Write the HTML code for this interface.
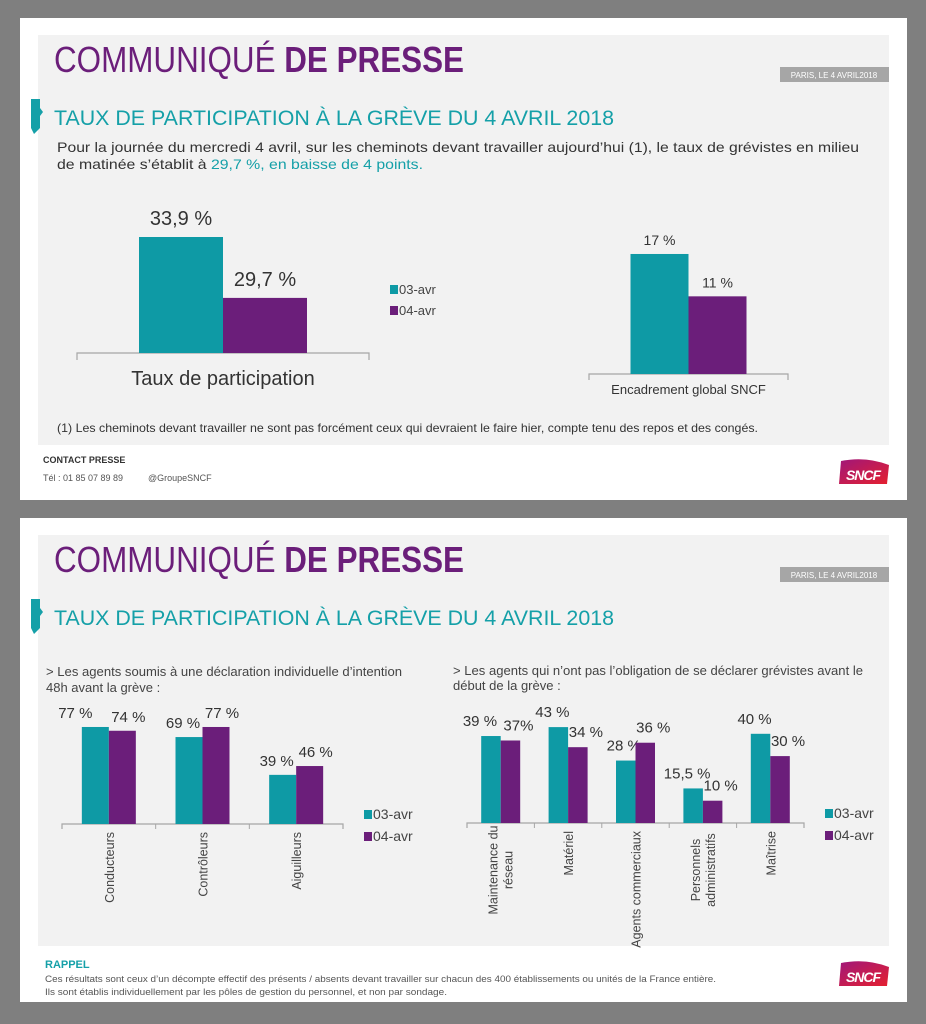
<!DOCTYPE html>
<html><head><meta charset="utf-8">
<style>
html,body{margin:0;padding:0;background:#7f7f7f;}
svg{display:block;font-family:"Liberation Sans",sans-serif;}
.n{font-family:"Liberation Sans Narrow","Liberation Sans",sans-serif;}
</style></head>
<body>
<svg id="s" width="926" height="1024" viewBox="0 0 926 1024" xmlns="http://www.w3.org/2000/svg">
<defs>
<linearGradient id="lg" x1="0" y1="0" x2="1" y2="1"><stop offset="0" stop-color="#a0177a"/><stop offset="1" stop-color="#e4202f"/></linearGradient>
</defs>
<rect x="0" y="0" width="926" height="1024" fill="#7f7f7f"/>
<g>
<rect x="20" y="18" width="887" height="482" fill="#fff"/>
<rect x="38" y="35" width="851" height="410" fill="#f2f2f2"/>
<text x="54" y="72" font-size="36" fill="#6b1e7a" textLength="410" lengthAdjust="spacingAndGlyphs"><tspan font-weight="300">COMMUNIQUÉ </tspan><tspan font-weight="bold">DE PRESSE</tspan></text>
<rect x="780" y="67" width="109" height="15" fill="#a6a6a6"/>
<text x="834" y="78" font-size="8" fill="#fff" text-anchor="middle" class="n">PARIS, LE 4 AVRIL2018</text>
<path d="M31 99 L40 99 L40 108 L43 112 L40 116 L40 128 L34 134 L31 128 Z" fill="#15a0a8"/>
<text x="54" y="125" font-size="21" fill="#15a0a8" class="n" textLength="560" lengthAdjust="spacingAndGlyphs">TAUX DE PARTICIPATION À LA GRÈVE DU 4 AVRIL 2018</text>
<text x="57" y="152" font-size="14" fill="#333" class="n" textLength="802" lengthAdjust="spacingAndGlyphs">Pour la journée du mercredi 4 avril, sur les cheminots devant travailler aujourd’hui (1), le taux de grévistes en milieu</text>
<text x="57" y="169" font-size="14" fill="#333" class="n" textLength="366" lengthAdjust="spacingAndGlyphs">de matinée s’établit à <tspan fill="#15a0a8">29,7 %, en baisse de 4 points.</tspan></text>
<g id="c1"></g>
<g id="c2"></g>
<text x="57" y="432" font-size="12" fill="#333" class="n" textLength="701" lengthAdjust="spacingAndGlyphs">(1)  Les cheminots devant travailler ne sont pas forcément ceux qui devraient le faire hier, compte tenu des repos et des congés.</text>
<text x="43" y="463" font-size="9" font-weight="bold" fill="#333" class="n">CONTACT PRESSE</text>
<text x="43" y="481" font-size="9" fill="#555" class="n">Tél : 01 85 07 89 89</text>
<text x="148" y="481" font-size="9" fill="#555" class="n">@GroupeSNCF</text>
<g>
<path d="M841 461 Q866 456 889 465 L887 484 L839 484 Z" fill="url(#lg)"/>
<text x="863" y="480" font-size="14" font-weight="bold" font-style="italic" fill="#fff" text-anchor="middle" letter-spacing="-1">SNCF</text>
</g>
</g>
<g>
<rect x="20" y="518" width="887" height="484" fill="#fff"/>
<rect x="38" y="535" width="851" height="411" fill="#f2f2f2"/>
<text x="54" y="572" font-size="36" fill="#6b1e7a" textLength="410" lengthAdjust="spacingAndGlyphs"><tspan font-weight="300">COMMUNIQUÉ </tspan><tspan font-weight="bold">DE PRESSE</tspan></text>
<rect x="780" y="567" width="109" height="15" fill="#a6a6a6"/>
<text x="834" y="578" font-size="8" fill="#fff" text-anchor="middle" class="n">PARIS, LE 4 AVRIL2018</text>
<path d="M31 599 L40 599 L40 608 L43 612 L40 616 L40 628 L34 634 L31 628 Z" fill="#15a0a8"/>
<text x="54" y="625" font-size="21" fill="#15a0a8" class="n" textLength="560" lengthAdjust="spacingAndGlyphs">TAUX DE PARTICIPATION À LA GRÈVE DU 4 AVRIL 2018</text>
<text x="46" y="676" font-size="13" fill="#444" textLength="356" lengthAdjust="spacingAndGlyphs">&gt; Les agents soumis à une déclaration individuelle d’intention</text>
<text x="46" y="692" font-size="13" fill="#444">48h avant la grève :</text>
<text x="453" y="675" font-size="13" fill="#444" textLength="410" lengthAdjust="spacingAndGlyphs">&gt; Les agents qui n’ont pas l’obligation de se déclarer grévistes avant le</text>
<text x="453" y="690" font-size="13" fill="#444">début de la grève :</text>
<g id="c3"></g>
<g id="c4"></g>
<text x="45" y="968" font-size="11" font-weight="bold" fill="#15a0a8" class="n">RAPPEL</text>
<text x="45" y="982" font-size="9" fill="#555" class="n" textLength="671" lengthAdjust="spacingAndGlyphs">Ces résultats sont ceux d’un décompte effectif des présents / absents devant travailler sur chacun des 400 établissements ou unités de la France entière.</text>
<text x="45" y="995" font-size="9" fill="#555" class="n" textLength="402" lengthAdjust="spacingAndGlyphs">Ils sont établis individuellement par les pôles de gestion du personnel, et non par sondage.</text>
<g>
<path d="M841 963 Q866 958 889 967 L887 986 L839 986 Z" fill="url(#lg)"/>
<text x="863" y="982" font-size="14" font-weight="bold" font-style="italic" fill="#fff" text-anchor="middle" letter-spacing="-1">SNCF</text>
</g>
</g>
</svg>
<script>
const c1Categories=["Taux de participation"];
const c1Apr3=[33.9];
const c1Apr4=[29.7];
const c1Labels3=["33,9 %"];
const c1Labels4=["29,7 %"];
const c2Categories=["Encadrement global SNCF"];
const c2Apr3=[17];
const c2Apr4=[11];
const c2Labels3=["17 %"];
const c2Labels4=["11 %"];
const c3Categories=[["Conducteurs"],["Contrôleurs"],["Aiguilleurs"]];
const c3Apr3=[77,69,39];
const c3Apr4=[74,77,46];
const c3Labels3=["77 %","69 %","39 %"];
const c3Labels4=["74 %","77 %","46 %"];
const c4Categories=[["Maintenance du","réseau"],["Matériel"],["Agents commerciaux"],["Personnels","administratifs"],["Maîtrise"]];
const c4Apr3=[39,43,28,15.5,40];
const c4Apr4=[37,34,36,10,30];
const c4Labels3=["39 %","43 %","28 %","15,5 %","40 %"];
const c4Labels4=["37%","34 %","36 %","10 %","30 %"];
const legendNames=["03-avr","04-avr"];

const NS="http://www.w3.org/2000/svg";
const TEAL="#0e9aa5",PURP="#6b1e7a";
function mk(p,tag,a){const e=document.createElementNS(NS,tag);for(const k in a)e.setAttribute(k,a[k]);p.appendChild(e);return e;}

function chart(id,o){
  const g=document.getElementById(id);
  const n=o.cats.length, gw=(o.x1-o.x0)/n;
  const y=v=>o.base-(v-o.min)*o.k;
  const ax=mk(g,'path',{d:`M${o.x0} ${o.base+o.tick} V${o.base} H${o.x1} V${o.base+o.tick}`,fill:'none',stroke:'#a6a6a6','stroke-width':1.2});
  
  
  for(let i=1;i<n;i++){
    const t=mk(g,'line',{x1:o.x0+gw*i,x2:o.x0+gw*i,y1:o.base,y2:o.base+o.tick,stroke:'#a6a6a6'});
    
    
  }
  for(let i=0;i<n;i++){
    const cx=o.x0+gw*i+gw/2, bw=o.bw;
    const lo3=(o.lo3 && o.lo3[i]!==undefined)?o.lo3[i]:o.lo;
    [[o.a,o.la,TEAL,cx-bw,-lo3,'apr3'],[o.b,o.lb,PURP,cx,o.lo,'apr4']].forEach(([arr,lab,col,bx,off,nm])=>{
      const yt=y(arr[i]);
      const r=mk(g,'rect',{x:bx,y:yt,width:bw,height:o.base-yt,fill:col});
      
      
      const t=mk(g,'text',{x:bx+bw/2+off,y:yt-o.lg,'font-size':o.vf,fill:'#333','text-anchor':'middle',class:o.cls||''});
      t.textContent=lab[i];
      
      
    });
    const c=o.cats[i];
    if(o.rot){
      if(c.length===1){
        const t=mk(g,'text',{x:cx+5,y:o.base+8,'font-size':12.5,fill:'#444','text-anchor':'end',transform:`rotate(-90 ${cx+5} ${o.base+8})`});
        t.textContent=c[0];
        
        
      }else{
        c.forEach((ln,j)=>{
          const lx=cx-3+15*j, ly=o.base+47;
          const t=mk(g,'text',{x:lx,y:ly,'font-size':12.5,fill:'#444','text-anchor':'middle',transform:`rotate(-90 ${lx} ${ly})`});
          t.textContent=ln;
          
          
        });
      }
    }else{
      const t=mk(g,'text',{x:cx,y:o.base+o.cy,'font-size':o.cf,fill:'#333','text-anchor':'middle',class:'n'});
      t.textContent=c;
      
      
    }
  }
  if(o.leg){
    legendNames.forEach((nm,j)=>{
      const s=mk(g,'rect',{x:o.leg[0],y:o.leg[1]+j*o.leg[2]-8,width:8,height:9,fill:j?PURP:TEAL});
      
      
      const t=mk(g,'text',{x:o.leg[0]+9,y:o.leg[1]+j*o.leg[2]+1,'font-size':o.legf,fill:'#444',class:o.cls||''});
      t.textContent=nm;
      
      
    });
  }
}
chart('c1',{cats:c1Categories,a:c1Apr3,b:c1Apr4,la:c1Labels3,lb:c1Labels4,x0:77,x1:369,base:353,k:14.5,min:25.9,bw:84,tick:7,lo:0,lg:12,vf:20,cy:32,cf:20,cls:'n',leg:[390,293,21],legf:13});
chart('c2',{cats:c2Categories,a:c2Apr3,b:c2Apr4,la:c2Labels3,lb:c2Labels4,x0:589,x1:788,base:374,k:7.06,min:0,bw:58,tick:6,lo:0,lg:9,vf:14,cy:20,cf:13,cls:'n'});
chart('c3',{cats:c3Categories,a:c3Apr3,b:c3Apr4,la:c3Labels3,lb:c3Labels4,x0:62,x1:343,base:824,k:1.26,min:0,bw:27,tick:5,lo:6,lo3:[20,6,6],lg:9,vf:15,rot:true,leg:[364,818,22],legf:14});
chart('c4',{cats:c4Categories,a:c4Apr3,b:c4Apr4,la:c4Labels3,lb:c4Labels4,x0:467,x1:804,base:823,k:2.23,min:0,bw:19.5,tick:5,lo:8,lo3:[11,6,2,6,6],lg:10,vf:15,rot:true,leg:[825,817,22],legf:14});
</script>
</body></html>
